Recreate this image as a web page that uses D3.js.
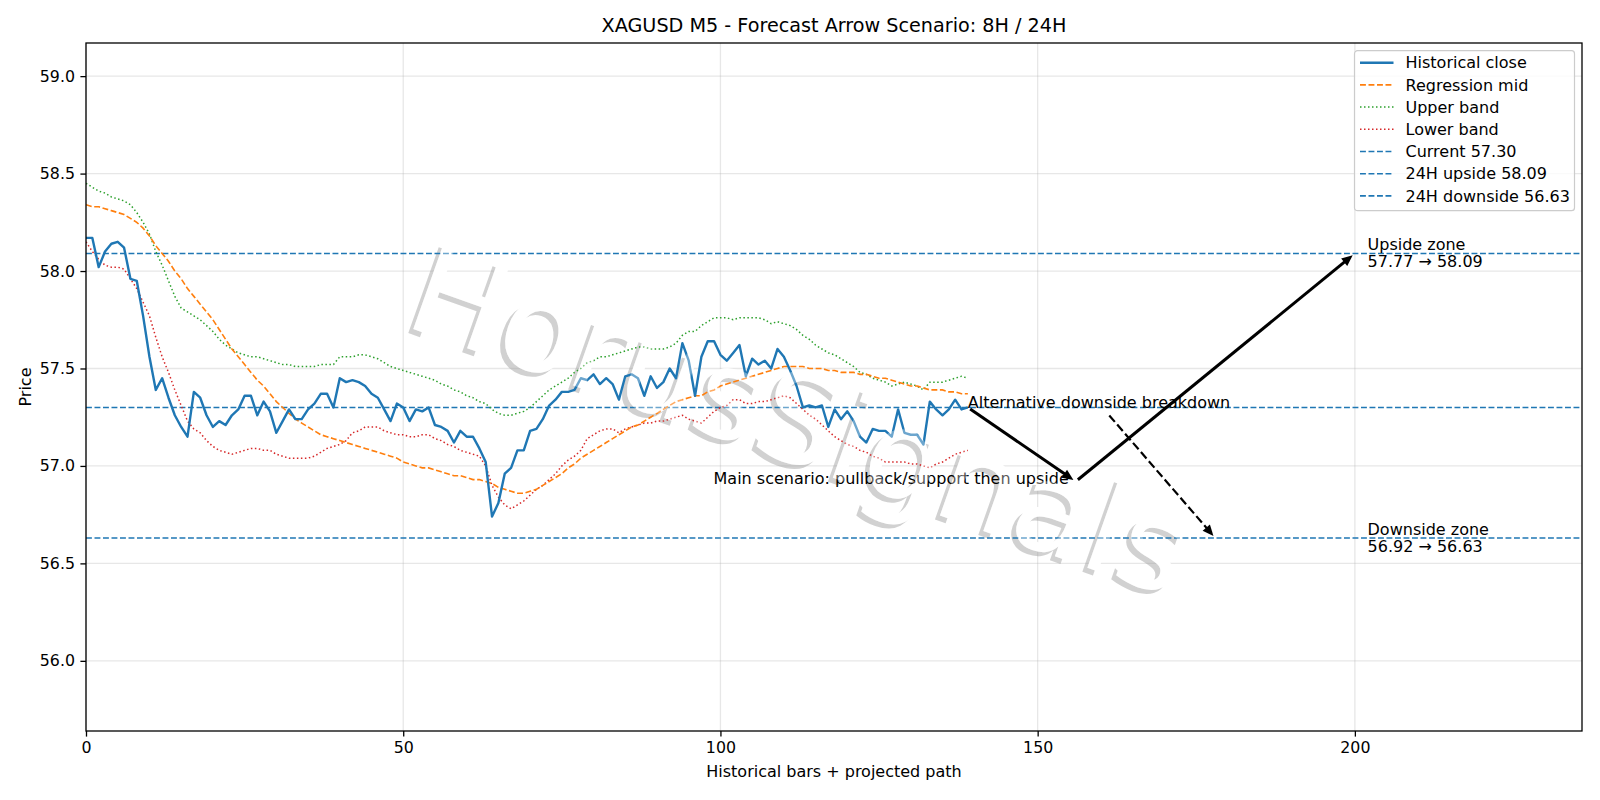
<!DOCTYPE html>
<html>
<head>
<meta charset="utf-8">
<script src="https://cdn.jsdelivr.net/npm/d3@7"></script>
<style>
body { margin: 0; background: #fff; }
text { font-family: "DejaVu Sans", sans-serif; }
</style>
</head>
<body>
<div id="chart"></div>
<script>
// Historical closes, one per bar (index = bar number)
var closes = [58.17, 58.17, 58.02, 58.10, 58.14, 58.15, 58.12, 57.96, 57.95, 57.77,
    57.56, 57.39, 57.45, 57.35, 57.26, 57.20, 57.15, 57.38, 57.35, 57.26,
    57.20, 57.23, 57.21, 57.26, 57.29, 57.36, 57.36, 57.26, 57.33, 57.28,
    57.17, 57.23, 57.29, 57.24, 57.24, 57.29, 57.32, 57.37, 57.37, 57.30,
    57.45, 57.43, 57.44, 57.43, 57.41, 57.37, 57.35, 57.29, 57.23, 57.32,
    57.30, 57.23, 57.29, 57.28, 57.30, 57.21, 57.20, 57.18, 57.12, 57.18,
    57.15, 57.15, 57.09, 57.02, 56.74, 56.81, 56.96, 56.99, 57.08, 57.08,
    57.18, 57.19, 57.24, 57.31, 57.34, 57.38, 57.38, 57.39, 57.45, 57.44,
    57.47, 57.42, 57.45, 57.42, 57.34, 57.46, 57.47, 57.45, 57.36, 57.46,
    57.40, 57.43, 57.50, 57.45, 57.63, 57.54, 57.36, 57.56, 57.64, 57.64,
    57.57, 57.54, 57.58, 57.62, 57.46, 57.55, 57.52, 57.54, 57.50, 57.60,
    57.56, 57.49, 57.41, 57.30, 57.31, 57.30, 57.31, 57.20, 57.29, 57.24,
    57.28, 57.23, 57.15, 57.12, 57.19, 57.18, 57.18, 57.15, 57.29, 57.17,
    57.16, 57.16, 57.11, 57.33, 57.29, 57.26, 57.29, 57.34, 57.29, 57.30];

var regMid = [58.34, 58.33, 58.33, 58.32, 58.31, 58.30, 58.29, 58.27, 58.25, 58.22,
    58.18, 58.13, 58.09, 58.05, 58.00, 57.96, 57.91, 57.87, 57.83, 57.79,
    57.75, 57.70, 57.65, 57.60, 57.56, 57.52, 57.48, 57.44, 57.41, 57.37,
    57.33, 57.30, 57.27, 57.24, 57.22, 57.20, 57.18, 57.16, 57.15, 57.14,
    57.13, 57.12, 57.11, 57.10, 57.09, 57.08, 57.07, 57.06, 57.05, 57.04,
    57.02, 57.01, 57.00, 56.99, 56.99, 56.98, 56.97, 56.96, 56.95, 56.95,
    56.94, 56.93, 56.93, 56.92, 56.91, 56.89, 56.88, 56.87, 56.86, 56.86,
    56.87, 56.88, 56.90, 56.92, 56.94, 56.96, 56.99, 57.01, 57.04, 57.06,
    57.08, 57.10, 57.12, 57.14, 57.16, 57.18, 57.20, 57.21, 57.23, 57.25,
    57.27, 57.29, 57.31, 57.33, 57.34, 57.35, 57.36, 57.36, 57.38, 57.39,
    57.41, 57.42, 57.43, 57.44, 57.45, 57.46, 57.47, 57.48, 57.49, 57.50,
    57.51, 57.51, 57.51, 57.51, 57.50, 57.50, 57.50, 57.49, 57.49, 57.48,
    57.48, 57.48, 57.47, 57.47, 57.46, 57.45, 57.45, 57.44, 57.43, 57.42,
    57.41, 57.41, 57.40, 57.39, 57.39, 57.39, 57.38, 57.38, 57.37, 57.37];

var upperBand = [58.45, 58.43, 58.41, 58.40, 58.38, 58.37, 58.36, 58.34, 58.30, 58.25,
    58.19, 58.10, 58.03, 57.95, 57.87, 57.81, 57.79, 57.77, 57.75, 57.72,
    57.69, 57.65, 57.62, 57.60, 57.58, 57.57, 57.56, 57.56, 57.55, 57.54,
    57.53, 57.52, 57.52, 57.51, 57.51, 57.51, 57.51, 57.52, 57.52, 57.52,
    57.56, 57.56, 57.56, 57.57, 57.57, 57.56, 57.55, 57.53, 57.51, 57.50,
    57.49, 57.48, 57.47, 57.46, 57.45, 57.44, 57.42, 57.41, 57.39, 57.38,
    57.36, 57.35, 57.33, 57.32, 57.29, 57.27, 57.26, 57.26, 57.27, 57.28,
    57.30, 57.33, 57.36, 57.39, 57.41, 57.43, 57.45, 57.48, 57.50, 57.53,
    57.54, 57.56, 57.56, 57.57, 57.58, 57.59, 57.60, 57.61, 57.61, 57.60,
    57.60, 57.60, 57.61, 57.63, 57.67, 57.69, 57.69, 57.72, 57.74, 57.76,
    57.76, 57.76, 57.75, 57.76, 57.76, 57.76, 57.76, 57.75, 57.73, 57.74,
    57.73, 57.72, 57.70, 57.67, 57.65, 57.62, 57.60, 57.58, 57.57, 57.55,
    57.53, 57.51, 57.48, 57.47, 57.45, 57.44, 57.43, 57.41, 57.42, 57.43,
    57.42, 57.41, 57.39, 57.43, 57.43, 57.43, 57.44, 57.45, 57.46, 57.45];

var lowerBand = [58.15, 58.10, 58.06, 58.03, 58.02, 58.02, 58.01, 57.96, 57.91, 57.84,
    57.77, 57.66, 57.56, 57.48, 57.39, 57.31, 57.23, 57.19, 57.17, 57.13,
    57.10, 57.08, 57.07, 57.06, 57.07, 57.08, 57.09, 57.09, 57.08, 57.08,
    57.06, 57.05, 57.04, 57.04, 57.04, 57.04, 57.05, 57.07, 57.09, 57.10,
    57.11, 57.13, 57.17, 57.18, 57.20, 57.20, 57.20, 57.18, 57.17, 57.16,
    57.16, 57.15, 57.15, 57.16, 57.16, 57.14, 57.13, 57.11, 57.10, 57.08,
    57.07, 57.06, 57.05, 57.00, 56.90, 56.84, 56.80, 56.78, 56.80, 56.82,
    56.85, 56.88, 56.90, 56.93, 56.96, 57.00, 57.03, 57.05, 57.08, 57.14,
    57.16, 57.18, 57.19, 57.19, 57.17, 57.19, 57.20, 57.21, 57.22, 57.22,
    57.23, 57.23, 57.24, 57.25, 57.26, 57.24, 57.23, 57.22, 57.25, 57.28,
    57.30, 57.31, 57.34, 57.34, 57.32, 57.32, 57.33, 57.33, 57.34, 57.35,
    57.36, 57.35, 57.32, 57.29, 57.26, 57.24, 57.21, 57.18, 57.15, 57.13,
    57.11, 57.10, 57.08, 57.07, 57.05, 57.04, 57.02, 57.02, 57.02, 57.02,
    57.01, 57.01, 57.00, 56.99, 57.01, 57.02, 57.04, 57.06, 57.07, 57.08];

// Reference levels
var levelNames = ["Current", "24H upside", "24H downside"];
var levelValues = [57.30, 58.09, 56.63];

// Projected path: [bar, price]
var mainPath = [[139, 57.30], [156, 56.92], [200, 58.09]];
var altPath = [[161, 57.27], [178, 56.63]];

// Zones: [from, to]
var upsideZone = [57.77, 58.09];
var downsideZone = [56.92, 56.63];

var xTicks = [0, 50, 100, 150, 200];
var yTicks = [56.0, 56.5, 57.0, 57.5, 58.0, 58.5, 59.0];

var w = 1600;
var h = 800;
var margin = { top: 43, right: 18, bottom: 69, left: 86 };
var width = w - margin.left - margin.right;
var height = h - margin.top - margin.bottom;

var blue = "#1f77b4", orange = "#ff7f0e", green = "#2ca02c", red = "#d62728";
var fs = "16px";

var xScale = d3.scaleLinear().domain([0, 235.8]).range([0, width]);
var yScale = d3.scaleLinear().domain([55.64, 59.17]).range([height, 0]);

var svgRoot = d3.select("#chart").append("svg")
    .attr("width", w)
    .attr("height", h);

svgRoot.append("rect").attr("width", w).attr("height", h).attr("fill", "#fff");

var svg = svgRoot.append("g")
    .attr("transform", "translate(" + margin.left + "," + margin.top + ")");

// Grid
svg.append("g").selectAll("line").data(xTicks).enter().append("line")
    .attr("x1", function(d) { return xScale(d); })
    .attr("x2", function(d) { return xScale(d); })
    .attr("y1", 0).attr("y2", height)
    .attr("stroke", "#b0b0b0").attr("stroke-opacity", 0.3).attr("stroke-width", 1.3);
svg.append("g").selectAll("line").data(yTicks).enter().append("line")
    .attr("y1", function(d) { return yScale(d); })
    .attr("y2", function(d) { return yScale(d); })
    .attr("x1", 0).attr("x2", width)
    .attr("stroke", "#b0b0b0").attr("stroke-opacity", 0.3).attr("stroke-width", 1.3);

// Watermark (shadow + white body, behind the data)
var wmX = 786 - margin.left, wmY = 461 - margin.top;
function watermark(dx, dy, fill, op) {
    svg.append("text")
        .attr("transform", "translate(" + (wmX + dx) + "," + (wmY + dy) + ") rotate(19.5)")
        .attr("text-anchor", "middle")
        .attr("font-size", "125px")
        .attr("fill", fill)
        .attr("fill-opacity", op)
        .text("HorusSignals");
}
watermark(-5, 4, "#999999", 0.45);
watermark(0, 0, "#ffffff", 1);

var clip = svg.append("defs").append("clipPath").attr("id", "clip")
    .append("rect").attr("width", width).attr("height", height);
var plot = svg.append("g").attr("clip-path", "url(#clip)");

// Level lines
plot.selectAll(".level").data(levelValues).enter().append("line")
    .attr("class", "level")
    .attr("x1", 0).attr("x2", width)
    .attr("y1", function(d) { return yScale(d); })
    .attr("y2", function(d) { return yScale(d); })
    .attr("stroke", blue).attr("stroke-width", 1.6)
    .attr("stroke-dasharray", "5.9,2.6");

var line = d3.line()
    .x(function(d, i) { return xScale(i); })
    .y(function(d) { return yScale(d); });

plot.append("path").datum(upperBand).attr("d", line)
    .attr("fill", "none").attr("stroke", green).attr("stroke-width", 1.5)
    .attr("stroke-dasharray", "1.5,2.5");
plot.append("path").datum(lowerBand).attr("d", line)
    .attr("fill", "none").attr("stroke", red).attr("stroke-width", 1.5)
    .attr("stroke-dasharray", "1.5,2.5");
plot.append("path").datum(regMid).attr("d", line)
    .attr("fill", "none").attr("stroke", orange).attr("stroke-width", 1.6)
    .attr("stroke-dasharray", "5.9,2.6");
plot.append("path").datum(closes).attr("d", line)
    .attr("fill", "none").attr("stroke", blue).attr("stroke-width", 2.4)
    .attr("stroke-linejoin", "round");

// Arrows
function arrow(p0, p1, lw, dash) {
    var x0 = xScale(p0[0]), y0 = yScale(p0[1]);
    var x1 = xScale(p1[0]), y1 = yScale(p1[1]);
    var dx = x1 - x0, dy = y1 - y0, len = Math.sqrt(dx * dx + dy * dy);
    var ux = dx / len, uy = dy / len;
    x0 += ux * 2.8; y0 += uy * 2.8;
    x1 -= ux * 2.8; y1 -= uy * 2.8;
    var hl = 11, hw = 4.8;
    var bx = x1 - ux * hl, by = y1 - uy * hl;
    plot.append("line")
        .attr("x1", x0).attr("y1", y0)
        .attr("x2", x1 - ux * hl * 0.7).attr("y2", y1 - uy * hl * 0.7)
        .attr("stroke", "#000").attr("stroke-width", lw)
        .attr("stroke-dasharray", dash);
    plot.append("path")
        .attr("d", "M" + x1 + "," + y1 + "L" + (bx - uy * hw) + "," + (by + ux * hw) +
            "L" + (bx + uy * hw) + "," + (by - ux * hw) + "Z")
        .attr("fill", "#000");
}
for (var i = 0; i < mainPath.length - 1; i++) {
    arrow(mainPath[i], mainPath[i + 1], 3.0, null);
}
arrow(altPath[0], altPath[1], 2.2, "8.5,3.6");

// Annotations
svg.append("text")
    .attr("x", xScale(mainPath[0][0]))
    .attr("y", yScale(mainPath[0][1]) + 1)
    .attr("font-size", fs)
    .text("Alternative downside breakdown");
svg.append("text")
    .attr("x", xScale(mainPath[1][0]) - 7)
    .attr("y", yScale(mainPath[1][1]) + 2)
    .attr("text-anchor", "end")
    .attr("font-size", fs)
    .text("Main scenario: pullback/support then upside");

function zoneText(title, zone) {
    var t = svg.append("text")
        .attr("x", xScale(202))
        .attr("y", yScale(zone[1]) - 3.2)
        .attr("font-size", fs);
    t.append("tspan").attr("x", xScale(202)).text(title);
    t.append("tspan").attr("x", xScale(202)).attr("dy", 16.8)
        .text(zone[0].toFixed(2) + " \u2192 " + zone[1].toFixed(2));
}
zoneText("Upside zone", upsideZone);
zoneText("Downside zone", downsideZone);

// White veil of the watermark over the data
watermark(0, 0, "#ffffff", 0.35);

// Axes
var xAxis = svg.append("g")
    .attr("transform", "translate(0," + height + ")")
    .call(d3.axisBottom(xScale).tickValues(xTicks).tickSize(5.6).tickPadding(5.4).tickSizeOuter(0));
var yAxis = svg.append("g")
    .call(d3.axisLeft(yScale).tickValues(yTicks).tickFormat(d3.format(".1f"))
        .tickSize(5.6).tickPadding(5.4).tickSizeOuter(0));
[xAxis, yAxis].forEach(function(a) {
    a.select(".domain").remove();
    a.selectAll(".tick line").attr("stroke", "#000").attr("stroke-width", 1.3);
    a.selectAll(".tick text").attr("fill", "#000").style("font-size", "15.8px")
        .style("font-family", "DejaVu Sans, sans-serif");
});

svg.append("rect")
    .attr("width", width).attr("height", height)
    .attr("fill", "none").attr("stroke", "#000").attr("stroke-width", 1.3);

// Labels
svgRoot.append("text")
    .attr("x", margin.left + width / 2).attr("y", 32.3)
    .attr("text-anchor", "middle").attr("font-size", "19.2px")
    .text("XAGUSD M5 - Forecast Arrow Scenario: 8H / 24H");
svgRoot.append("text")
    .attr("x", margin.left + width / 2).attr("y", 777)
    .attr("text-anchor", "middle").attr("font-size", fs)
    .text("Historical bars + projected path");
svgRoot.append("text")
    .attr("transform", "translate(31," + (margin.top + height / 2) + ") rotate(-90)")
    .attr("text-anchor", "middle").attr("font-size", fs)
    .text("Price");

// Legend
var legendItems = [
    { label: "Historical close", color: blue, lw: 2.4, dash: null },
    { label: "Regression mid", color: orange, lw: 1.6, dash: "5.9,2.6" },
    { label: "Upper band", color: green, lw: 1.5, dash: "1.5,2.5" },
    { label: "Lower band", color: red, lw: 1.5, dash: "1.5,2.5" }
];
levelNames.forEach(function(n, i) {
    legendItems.push({ label: n + " " + levelValues[i].toFixed(2), color: blue, lw: 1.6, dash: "5.9,2.6" });
});
var lg = svgRoot.append("g").attr("transform", "translate(1354.5,50.7)");
lg.append("rect").attr("width", 220).attr("height", 160).attr("rx", 3)
    .attr("fill", "#fff").attr("fill-opacity", 0.8)
    .attr("stroke", "#cccccc").attr("stroke-width", 1.2);
var rows = lg.selectAll(".row").data(legendItems).enter().append("g")
    .attr("transform", function(d, i) { return "translate(0," + (12 + i * 22.2) + ")"; });
rows.append("line").attr("x1", 5.5).attr("x2", 39)
    .attr("stroke", function(d) { return d.color; })
    .attr("stroke-width", function(d) { return d.lw; })
    .attr("stroke-dasharray", function(d) { return d.dash; });
rows.append("text").attr("x", 51).attr("dy", "0.35em")
    .attr("font-size", fs).text(function(d) { return d.label; });
</script>
</body>
</html>
